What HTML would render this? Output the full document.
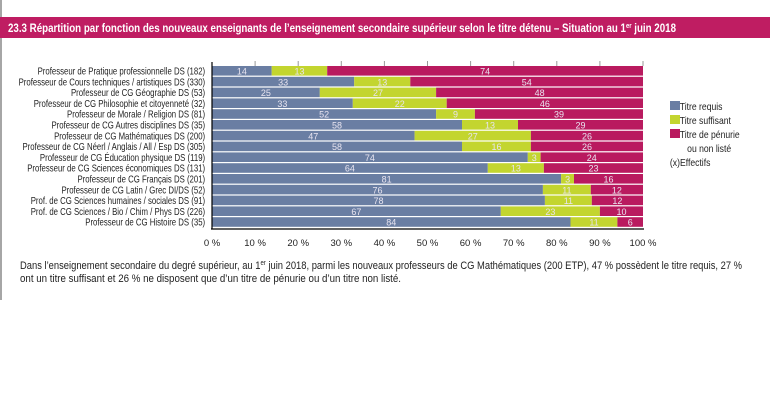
<!DOCTYPE html>
<html><head><meta charset="utf-8"><style>
html,body{margin:0;padding:0;background:#fff;}
svg{display:block;font-family:"Liberation Sans",sans-serif;}
</style></head><body>
<svg width="770" height="411" viewBox="0 0 770 411" xmlns="http://www.w3.org/2000/svg">
<rect width="770" height="411" fill="#fff"/>
<line x1="1" y1="0" x2="1" y2="300" stroke="#888" stroke-width="1.5"/>
<rect x="0" y="17" width="770" height="21" fill="#bf1d62"/>
<text x="8" y="32" fill="#fff" font-size="11.5" font-weight="bold" textLength="668" lengthAdjust="spacingAndGlyphs">23.3  Répartition par fonction des nouveaux enseignants de l’enseignement secondaire supérieur selon le titre détenu – Situation au 1<tspan font-size="7" dy="-4">er</tspan><tspan dy="4"> juin 2018</tspan></text>

<g stroke="#999" stroke-width="1">
<line x1="255.1" y1="61" x2="255.1" y2="66"/><line x1="298.2" y1="61" x2="298.2" y2="66"/><line x1="341.3" y1="61" x2="341.3" y2="66"/><line x1="384.4" y1="61" x2="384.4" y2="66"/><line x1="427.5" y1="61" x2="427.5" y2="66"/><line x1="470.6" y1="61" x2="470.6" y2="66"/><line x1="513.7" y1="61" x2="513.7" y2="66"/><line x1="556.8" y1="61" x2="556.8" y2="66"/><line x1="599.9" y1="61" x2="599.9" y2="66"/><line x1="643" y1="61" x2="643" y2="66"/>
</g>

<g>
<rect x="212" y="66" width="59.7" height="9.6" fill="#6a7ea3"/><rect x="271.7" y="66" width="55.5" height="9.6" fill="#c3d52f"/><rect x="327.2" y="66" width="315.8" height="9.6" fill="#b91a5f"/>
<rect x="212" y="76.8" width="142.2" height="9.6" fill="#6a7ea3"/><rect x="354.2" y="76.8" width="56.1" height="9.6" fill="#c3d52f"/><rect x="410.3" y="76.8" width="232.7" height="9.6" fill="#b91a5f"/>
<rect x="212" y="87.6" width="107.8" height="9.6" fill="#6a7ea3"/><rect x="319.8" y="87.6" width="116.3" height="9.6" fill="#c3d52f"/><rect x="436.1" y="87.6" width="206.9" height="9.6" fill="#b91a5f"/>
<rect x="212" y="98.4" width="140.8" height="9.6" fill="#6a7ea3"/><rect x="352.8" y="98.4" width="93.9" height="9.6" fill="#c3d52f"/><rect x="446.7" y="98.4" width="196.3" height="9.6" fill="#b91a5f"/>
<rect x="212" y="109.2" width="224.1" height="9.6" fill="#6a7ea3"/><rect x="436.1" y="109.2" width="38.8" height="9.6" fill="#c3d52f"/><rect x="474.9" y="109.2" width="168.1" height="9.6" fill="#b91a5f"/>
<rect x="212" y="120" width="250" height="9.6" fill="#6a7ea3"/><rect x="462" y="120" width="56" height="9.6" fill="#c3d52f"/><rect x="518" y="120" width="125" height="9.6" fill="#b91a5f"/>
<rect x="212" y="130.8" width="202.6" height="9.6" fill="#6a7ea3"/><rect x="414.6" y="130.8" width="116.3" height="9.6" fill="#c3d52f"/><rect x="530.9" y="130.8" width="112.1" height="9.6" fill="#b91a5f"/>
<rect x="212" y="141.6" width="250" height="9.6" fill="#6a7ea3"/><rect x="462" y="141.6" width="68.9" height="9.6" fill="#c3d52f"/><rect x="530.9" y="141.6" width="112.1" height="9.6" fill="#b91a5f"/>
<rect x="212" y="152.4" width="315.8" height="9.6" fill="#6a7ea3"/><rect x="527.8" y="152.4" width="12.8" height="9.6" fill="#c3d52f"/><rect x="540.6" y="152.4" width="102.4" height="9.6" fill="#b91a5f"/>
<rect x="212" y="163.2" width="275.8" height="9.6" fill="#6a7ea3"/><rect x="487.8" y="163.2" width="56.1" height="9.6" fill="#c3d52f"/><rect x="543.9" y="163.2" width="99.1" height="9.6" fill="#b91a5f"/>
<rect x="212" y="174" width="349.1" height="9.6" fill="#6a7ea3"/><rect x="561.1" y="174" width="12.9" height="9.6" fill="#c3d52f"/><rect x="574" y="174" width="69" height="9.6" fill="#b91a5f"/>
<rect x="212" y="184.8" width="330.9" height="9.6" fill="#6a7ea3"/><rect x="542.9" y="184.8" width="47.9" height="9.6" fill="#c3d52f"/><rect x="590.8" y="184.8" width="52.2" height="9.6" fill="#b91a5f"/>
<rect x="212" y="195.6" width="332.9" height="9.6" fill="#6a7ea3"/><rect x="544.9" y="195.6" width="46.9" height="9.6" fill="#c3d52f"/><rect x="591.8" y="195.6" width="51.2" height="9.6" fill="#b91a5f"/>
<rect x="212" y="206.4" width="288.8" height="9.6" fill="#6a7ea3"/><rect x="500.8" y="206.4" width="99.1" height="9.6" fill="#c3d52f"/><rect x="599.9" y="206.4" width="43.1" height="9.6" fill="#b91a5f"/>
<rect x="212" y="217.2" width="358.5" height="9.6" fill="#6a7ea3"/><rect x="570.5" y="217.2" width="46.9" height="9.6" fill="#c3d52f"/><rect x="617.4" y="217.2" width="25.6" height="9.6" fill="#b91a5f"/>
</g>

<g fill="#e8e4f0" font-size="9" text-anchor="middle">
<text x="241.9" y="74.5">14</text><text x="299.5" y="74.5">13</text><text x="485.1" y="74.5">74</text>
<text x="283.1" y="85.3">33</text><text x="382.3" y="85.3">13</text><text x="526.7" y="85.3">54</text>
<text x="265.9" y="96.1">25</text><text x="378" y="96.1">27</text><text x="539.6" y="96.1">48</text>
<text x="282.4" y="106.9">33</text><text x="399.8" y="106.9">22</text><text x="544.9" y="106.9">46</text>
<text x="324.1" y="117.7">52</text><text x="455.5" y="117.7">9</text><text x="559" y="117.7">39</text>
<text x="337" y="128.5">58</text><text x="490" y="128.5">13</text><text x="580.5" y="128.5">29</text>
<text x="313.3" y="139.3">47</text><text x="472.8" y="139.3">27</text><text x="587" y="139.3">26</text>
<text x="337" y="150.1">58</text><text x="496.5" y="150.1">16</text><text x="587" y="150.1">26</text>
<text x="369.9" y="160.9">74</text><text x="534.2" y="160.9">3</text><text x="591.8" y="160.9">24</text>
<text x="349.9" y="171.7">64</text><text x="515.9" y="171.7">13</text><text x="593.5" y="171.7">23</text>
<text x="386.6" y="182.5">81</text><text x="567.6" y="182.5">3</text><text x="608.5" y="182.5">16</text>
<text x="377.5" y="193.3">76</text><text x="566.9" y="193.3">11</text><text x="616.9" y="193.3">12</text>
<text x="378.5" y="204.1">78</text><text x="568.4" y="204.1">11</text><text x="617.4" y="204.1">12</text>
<text x="356.4" y="214.9">67</text><text x="550.4" y="214.9">23</text><text x="621.5" y="214.9">10</text>
<text x="391.3" y="225.7">84</text><text x="594" y="225.7">11</text><text x="630.2" y="225.7">6</text>
</g>

<line x1="212" y1="62" x2="212" y2="229" stroke="#000" stroke-width="1.2"/>
<line x1="211" y1="229" x2="644" y2="229" stroke="#000" stroke-width="1.2"/>

<g transform="scale(0.78,1)" font-size="10" fill="#222" text-anchor="end">
<text x="263" y="74.5">Professeur de Pratique professionnelle DS (182)</text>
<text x="263" y="85.3">Professeur de Cours techniques / artistiques DS (330)</text>
<text x="263" y="96.1">Professeur de CG Géographie DS (53)</text>
<text x="263" y="106.9">Professeur de CG Philosophie et citoyenneté (32)</text>
<text x="263" y="117.7">Professeur de Morale / Religion DS (81)</text>
<text x="263" y="128.5">Professeur de CG Autres disciplines DS (35)</text>
<text x="263" y="139.3">Professeur de CG Mathématiques DS (200)</text>
<text x="263" y="150.1">Professeur de CG Néerl / Anglais / All / Esp DS (305)</text>
<text x="263" y="160.9">Professeur de CG Éducation physique DS (119)</text>
<text x="263" y="171.7">Professeur de CG Sciences économiques DS (131)</text>
<text x="263" y="182.5">Professeur de CG Français DS (201)</text>
<text x="263" y="193.3">Professeur de CG Latin / Grec DI/DS (52)</text>
<text x="263" y="204.1">Prof. de CG Sciences humaines / sociales DS (91)</text>
<text x="263" y="214.9">Prof. de CG Sciences / Bio / Chim / Phys DS (226)</text>
<text x="263" y="225.7">Professeur de CG Histoire DS (35)</text>
</g>

<g font-size="9.5" fill="#222" text-anchor="middle">
<text x="212" y="246">0 %</text><text x="255.1" y="246">10 %</text><text x="298.2" y="246">20 %</text><text x="341.3" y="246">30 %</text><text x="384.4" y="246">40 %</text><text x="427.5" y="246">50 %</text><text x="470.6" y="246">60 %</text><text x="513.7" y="246">70 %</text><text x="556.8" y="246">80 %</text><text x="599.9" y="246">90 %</text><text x="643" y="246">100 %</text>
</g>

<rect x="670" y="101" width="10" height="9" fill="#6a7ea3"/>
<rect x="670" y="115" width="10" height="9" fill="#c3d52f"/>
<rect x="670" y="129" width="10" height="9" fill="#b91a5f"/>
<g font-size="10.5" fill="#222" transform="scale(0.82,1)">
<text x="829" y="110">Titre requis</text>
<text x="829" y="124">Titre suffisant</text>
<text x="829" y="138">Titre de pénurie</text>
<text x="838" y="152">ou non listé</text>
<text x="817" y="166">(x)Effectifs</text>
</g>

<text x="20" y="269" font-size="11" fill="#222" textLength="722" lengthAdjust="spacingAndGlyphs">Dans l’enseignement secondaire du degré supérieur, au 1<tspan font-size="7" dy="-4">er</tspan><tspan dy="4"> juin 2018, parmi les nouveaux professeurs de CG Mathématiques (200 ETP), 47 % possèdent le titre requis, 27 %</tspan></text>
<text x="20" y="282" font-size="11" fill="#222" textLength="381" lengthAdjust="spacingAndGlyphs">ont un titre suffisant et 26 % ne disposent que d’un titre de pénurie ou d’un titre non listé.</text>
</svg>
</body></html>
